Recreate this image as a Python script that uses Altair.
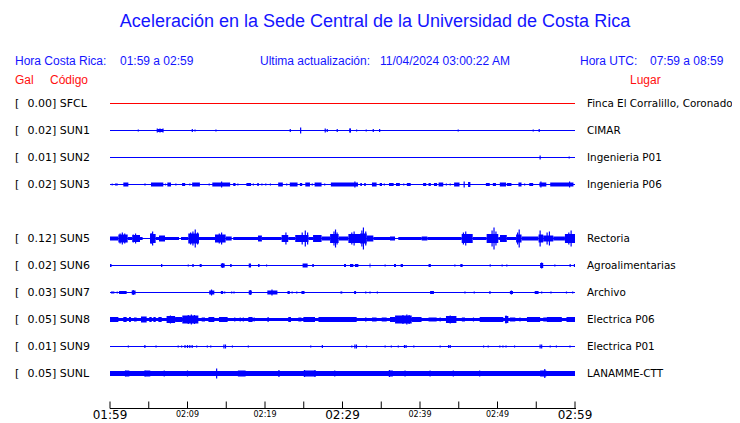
import altair as alt
import pandas as pd

# ---------------- data ----------------
codes = ["SFCL", "SUN1", "SUN2", "SUN3", "SUN5", "SUN6", "SUN7", "SUN8", "SUN9", "SUNL"]
rows = [0, 1, 2, 3, 5, 6, 7, 8, 9, 10]
gal = ["0.00", "0.02", "0.01", "0.02", "0.12", "0.02", "0.03", "0.05", "0.01", "0.05"]
places = ["Finca El Corralillo, Coronado", "CIMAR", "Ingenieria P01", "Ingenieria P06",
          "Rectoria", "Agroalimentarias", "Archivo", "Electrica P06", "Electrica P01",
          "LANAMME-CTT"]
base_amp = [0.5, 0.5, 0.5, 0.5, 0.5, 0.5, 0.5, 1.5, 0.5, 2.5]
trace_colors = ["#ff0000"] + ["#0000ff"] * 9

tick_minutes = [0, 5, 10, 15, 20, 25, 30, 35, 40, 45, 50, 55, 60]
label_minutes = [0, 10, 20, 30, 40, 50, 60]
label_texts = ["01:59", "02:09", "02:19", "02:29", "02:39", "02:49", "02:59"]
label_big = [True, False, False, True, False, False, True]

# bursts: (start minute, end minute, half amplitude)
SUN1_segs = [(6.1, 6.84, 1.5), (30.9, 31.1, 2)]
SUN3_segs = [(0.22, 0.34, 1), (0.65, 1.0, 1), (1.72, 2.37, 2), (4.43, 4.6, 1), (5.29, 6.88, 2),
             (7.1, 7.2, 1), (7.4, 7.87, 2), (9.3, 9.7, 1.5), (10.6, 11.6, 2), (13.2, 15.5, 2),
             (15.9, 16.2, 1.5), (17.6, 18.2, 1.5), (19.0, 19.2, 1.5), (21.7, 22.3, 2),
             (23.2, 24.2, 2), (24.5, 24.8, 1.5), (25.2, 25.8, 2), (26.4, 27.3, 2), (28.5, 32.0, 2),
             (32.3, 32.5, 1.5), (32.8, 33.0, 1.5), (33.8, 34.4, 2), (34.8, 35.1, 1.5),
             (36.0, 36.6, 1.5), (36.9, 37.4, 1.5), (38.3, 38.8, 1.5), (40.4, 40.8, 1.5),
             (41.1, 41.4, 1.5), (41.8, 42.2, 1.5), (42.4, 43.0, 2), (44.4, 45.1, 2),
             (46.2, 46.5, 2.5), (48.5, 49.0, 1.5), (49.4, 49.8, 1.5), (50.3, 51.1, 2),
             (51.2, 51.8, 1.5), (52.7, 53.1, 2), (54.1, 54.6, 1.5), (55.4, 56.3, 2), (56.8, 59.8, 2)]
SUN5_segs = [(0.0, 1.08, 2), (1.08, 2.28, 4), (2.28, 2.88, 1.5), (2.88, 3.87, 3.5), (3.87, 4.21, 1.5),
             (5.16, 5.89, 4.5), (5.89, 6.32, 1.5), (6.32, 7.1, 3), (7.1, 8.9, 1.5), (9.16, 10.1, 1.5),
             (10.1, 11.48, 5), (11.48, 13.55, 1.5), (13.55, 14.92, 4), (14.92, 15.7, 2),
             (15.9, 19.1, 1.5), (19.1, 19.6, 3), (19.6, 22.15, 1.5), (22.15, 23.0, 3.5),
             (23.0, 23.9, 1.5), (23.9, 25.6, 3.5), (25.6, 26.2, 1.5), (26.2, 27.3, 3.5),
             (27.3, 28.4, 2), (28.4, 29.5, 4.5), (29.5, 30.76, 2), (30.76, 32.26, 4.5),
             (32.26, 33.12, 5), (33.12, 33.98, 3), (33.98, 36.13, 1.5), (36.13, 36.78, 2),
             (37.2, 40.22, 1.5), (40.22, 40.95, 2), (40.95, 45.38, 1.5), (45.38, 46.8, 4.5),
             (46.8, 48.6, 1.5), (48.6, 50.1, 4.5), (50.1, 50.32, 1.5), (50.32, 51.2, 3.5),
             (51.2, 52.4, 1.5), (52.4, 53.1, 4), (53.1, 55.3, 2), (55.3, 55.9, 4), (55.9, 57.2, 3),
             (57.2, 58.7, 2), (58.7, 60.0, 4.5)]
SUN6_segs = [(0.0, 0.2, 1.5), (6.58, 6.75, 1.5), (10.62, 10.8, 1.5), (11.57, 11.83, 1.5),
             (14.3, 14.8, 2), (15.5, 15.7, 1.5), (17.9, 18.2, 2), (19.1, 19.3, 1.5), (24.85, 25.5, 2),
             (26.1, 26.3, 1.5), (30.2, 30.45, 1.5), (30.97, 31.4, 1.5), (31.6, 32.05, 1.5),
             (33.5, 33.6, 2), (36.65, 36.9, 1.5), (37.5, 37.8, 1.5), (41.1, 41.4, 1.5),
             (45.2, 45.5, 1.5), (49.0, 49.1, 1.5), (55.5, 55.9, 2.5), (59.3, 59.45, 1.5),
             (59.85, 60.0, 1.5)]
SUN7_segs = [(0.13, 0.56, 1), (0.86, 1.0, 1), (1.16, 2.15, 1.5), (2.8, 3.3, 2), (12.8, 13.46, 2),
             (14.3, 14.6, 1.5), (17.9, 18.3, 2), (20.3, 21.6, 2), (22.9, 23.2, 1.5), (24.7, 25.1, 1.5),
             (31.5, 31.75, 1.5), (41.3, 41.8, 1.5), (48.95, 49.1, 1.5), (51.6, 52.0, 1.5),
             (54.8, 55.3, 1.5)]
SUN8_segs = [(0.0, 1.08, 2.5), (1.72, 2.15, 2.5), (2.45, 2.7, 2.5), (3.1, 3.44, 2), (4.0, 4.73, 3),
             (5.07, 5.38, 2.5), (5.6, 5.9, 2.5), (6.24, 6.67, 2.5), (7.3, 8.4, 3.5), (8.4, 9.33, 2.5),
             (9.33, 11.4, 4), (11.83, 12.26, 2), (12.7, 13.46, 2.5), (14.06, 15.18, 2.5),
             (17.85, 18.4, 2.5), (23.0, 23.35, 2.5), (24.3, 24.7, 2), (24.95, 26.45, 2.5),
             (26.9, 31.83, 2.5), (32.9, 33.1, 2), (33.8, 34.4, 2), (35.06, 35.7, 2),
             (36.13, 36.78, 2.5), (36.78, 38.93, 4), (38.93, 40.2, 2.5), (41.1, 42.15, 2),
             (43.35, 44.7, 3.5), (45.4, 45.8, 2), (47.7, 50.75, 2.5), (50.96, 51.4, 3.5),
             (51.6, 52.3, 2), (53.8, 55.5, 2.5), (55.9, 56.35, 2), (56.35, 58.3, 2.5), (58.9, 60.0, 2.5)]
SUNL_segs = [(2.0, 2.5, 3), (4.5, 5.2, 3), (16.5, 17.5, 3), (25.0, 26.5, 3), (36.0, 36.5, 3),
             (55.5, 56.3, 3)]

# single spikes: (minute, half amplitude)
SUN1_spikes = [(3.65, 1), (6.1, 2), (6.45, 2), (6.84, 2), (10.62, 1.5), (10.97, 1), (13.67, 1),
               (23.26, 1.5), (24.6, 3), (27.77, 2), (28.03, 1.5), (29.32, 1.5), (30.96, 2),
               (31.82, 1), (33.06, 1), (33.97, 1.5), (34.79, 1.5), (44.93, 1), (54.61, 1), (55.38, 1.5)]
SUN2_spikes = [(55.5, 2), (59.25, 1)]
SUN3_spikes = [(8.5, 1), (10.3, 1), (12.8, 1), (14.4, 3), (16.5, 1), (18.5, 1), (19.6, 1), (20.1, 1),
               (20.7, 1), (22.8, 1), (26.1, 1), (27.7, 1), (31.6, 3), (35.4, 1), (37.9, 1), (43.4, 1),
               (43.9, 1), (45.7, 3), (53.5, 1), (55.6, 3), (59.3, 3)]
SUN5_spikes = [(1.59, 6), (1.3, 5), (1.9, 5), (3.3, 5), (3.0, 4), (5.5, 7), (5.3, 5.5), (11.0, 9),
               (10.7, 7), (11.3, 6), (10.4, 6), (14.4, 6), (14.1, 5), (22.7, 6), (25.2, 8), (24.8, 6),
               (25.5, 6), (29.1, 9), (28.9, 7), (29.3, 6), (31.5, 7), (31.2, 6), (32.7, 11), (32.5, 8),
               (33.0, 7), (45.9, 7), (45.6, 6), (49.55, 11), (49.3, 8), (49.8, 7), (52.8, 9),
               (52.6, 6), (55.5, 8), (56.7, 7), (56.4, 6), (59.5, 8), (59.2, 6)]
SUN6_spikes = [(10.1, 1), (20.2, 1), (35.5, 1), (44.5, 1), (50.6, 1), (51.2, 1), (57.4, 1),
               (14.55, 2.5), (55.7, 3)]
SUN7_spikes = [(3.0, 2.5), (13.1, 3), (14.8, 1), (15.7, 1), (16.0, 1), (18.1, 2.5), (20.9, 3),
               (23.5, 1), (24.1, 1), (29.8, 1), (29.9, 1), (33.0, 1), (33.55, 1), (34.5, 1),
               (45.8, 1), (47.0, 1), (51.8, 2), (55.7, 1), (56.9, 1), (58.9, 1), (59.7, 1)]
SUN8_spikes = [(10.5, 5), (10.1, 4.5), (10.9, 4.5), (7.8, 4), (38.3, 5), (37.8, 4.5), (38.6, 4.5),
               (43.9, 4), (16.1, 2), (16.8, 2), (17.2, 2), (18.6, 2), (20.4, 2.5), (42.6, 2),
               (46.9, 2), (52.9, 2), (51.1, 4)]
SUN9_spikes = [(2.37, 1), (4.5, 1.5), (5.94, 1), (8.8, 1), (9.24, 1), (9.68, 1.5), (10.0, 1.5),
               (10.3, 1.5), (10.6, 1.5), (11.18, 1), (12.56, 1), (13.0, 1), (14.7, 2), (14.9, 2),
               (15.8, 1), (17.85, 1), (25.9, 1), (27.4, 1.5), (31.2, 1), (31.6, 2), (31.8, 2),
               (33.1, 1), (35.5, 1), (36.3, 1), (37.2, 1), (38.0, 1.5), (38.2, 1.5), (39.2, 1),
               (42.6, 1), (43.7, 1.5), (43.9, 1.5), (48.2, 1), (48.8, 1), (50.3, 1), (50.7, 1),
               (51.1, 1), (52.2, 1), (55.5, 2), (55.7, 2), (56.8, 1), (57.6, 1), (59.35, 1)]
SUNL_spikes = [(13.76, 5), (21.8, 3.5), (25.1, 3.5), (26.45, 3.5), (29.0, 3), (36.05, 3.5),
               (38.07, 3), (41.3, 3), (44.3, 3), (47.7, 3), (56.1, 4.5), (2.0, 3), (4.5, 3),
               (7.0, 3), (10.0, 3)]

segments = {"SUN1": SUN1_segs, "SUN3": SUN3_segs, "SUN5": SUN5_segs, "SUN6": SUN6_segs,
            "SUN7": SUN7_segs, "SUN8": SUN8_segs, "SUNL": SUNL_segs}
spikes = {"SUN1": SUN1_spikes, "SUN2": SUN2_spikes, "SUN3": SUN3_spikes, "SUN5": SUN5_spikes,
          "SUN6": SUN6_spikes, "SUN7": SUN7_spikes, "SUN8": SUN8_spikes, "SUN9": SUN9_spikes,
          "SUNL": SUNL_spikes}

# ---------------- tables ----------------
row_of = dict(zip(codes, rows))
stations = pd.DataFrame({"code": codes, "row": rows, "gal": gal, "place": places,
                         "amp": base_amp, "t0": 0.0, "t1": 60.0})
stations["left"] = stations["gal"] + "] " + stations["code"]

seg_df = pd.DataFrame([dict(code=c, row=row_of[c], t0=a, t1=b, amp=h)
                       for c, lst in segments.items() for a, b, h in lst])
spk_df = pd.DataFrame([dict(code=c, row=row_of[c], t=a, amp=h)
                       for c, lst in spikes.items() for a, h in lst])
ticks_df = pd.DataFrame({"t": tick_minutes})
labels_df = pd.DataFrame({"t": label_minutes, "lab": label_texts, "big": label_big})

AMP_UNIT = 27.0  # pixels per row spacing
xs = alt.Scale(domain=[0, 60], range=[102, 567], nice=False, zero=False)
ys = alt.Scale(domain=[0, 10], range=[95.5, 365.5], nice=False, zero=False)
cs = alt.Scale(domain=codes, range=trace_colors)


def lohi(ch):
    return ch.transform_calculate(lo=f"datum.row - datum.amp/{AMP_UNIT}",
                                  hi=f"datum.row + datum.amp/{AMP_UNIT}")


base = lohi(alt.Chart(stations).mark_rect()).encode(
    x=alt.X("t0:Q", scale=xs, axis=None), x2="t1:Q",
    y=alt.Y("lo:Q", scale=ys, axis=None), y2="hi:Q",
    color=alt.Color("code:N", scale=cs, legend=None))

segs = lohi(alt.Chart(seg_df).mark_rect()).encode(
    x=alt.X("t0:Q", scale=xs, axis=None), x2="t1:Q",
    y=alt.Y("lo:Q", scale=ys, axis=None), y2="hi:Q",
    color=alt.Color("code:N", scale=cs, legend=None))

spk = lohi(alt.Chart(spk_df).mark_rule(strokeWidth=1.2)).encode(
    x=alt.X("t:Q", scale=xs, axis=None),
    y=alt.Y("lo:Q", scale=ys, axis=None), y2="hi:Q",
    color=alt.Color("code:N", scale=cs, legend=None))

left_br = alt.Chart(stations).mark_text(align="left", baseline="middle", font="DejaVu Sans",
                                        fontSize=11, color="black").encode(
    x=alt.value(7), y=alt.Y("row:Q", scale=ys, axis=None), text=alt.value("["))
left_txt = alt.Chart(stations).mark_text(align="left", baseline="middle", font="DejaVu Sans",
                                         fontSize=11, color="black").encode(
    x=alt.value(19.5), y=alt.Y("row:Q", scale=ys, axis=None), text="left:N")
right_txt = alt.Chart(stations).mark_text(align="left", baseline="middle", font="DejaVu Sans",
                                          fontSize=10.4, color="black").encode(
    x=alt.value(579), y=alt.Y("row:Q", scale=ys, axis=None), text="place:N")

axis_line = alt.Chart(ticks_df).mark_rule(color="black", strokeWidth=1).encode(
    x=alt.value(102), x2=alt.value(567.5), y=alt.value(400.5))
ticks = alt.Chart(ticks_df).mark_rule(color="black", strokeWidth=1).encode(
    x=alt.X("t:Q", scale=xs, axis=None), y=alt.value(393.5), y2=alt.value(400.5))
big_labels = alt.Chart(labels_df).transform_filter("datum.big").mark_text(
    align="center", baseline="alphabetic", font="DejaVu Sans", fontSize=12, color="black").encode(
    x=alt.X("t:Q", scale=xs, axis=None), y=alt.value(411.3), text="lab:N")
small_labels = alt.Chart(labels_df).transform_filter("!datum.big").mark_text(
    align="center", baseline="alphabetic", font="DejaVu Sans", fontSize=8, color="black").encode(
    x=alt.X("t:Q", scale=xs, axis=None), y=alt.value(408.7), text="lab:N")


def label(txt, x, y, color, size=12, align="left"):
    return alt.Chart(ticks_df.head(1)).mark_text(
        align=align, baseline="middle", font="Liberation Sans", fontSize=size, color=color).encode(
        x=alt.value(x), y=alt.value(y), text=alt.value(txt))


BLUE = "#1414ff"
RED = "#ff1010"
texts = [
    label("Aceleración en la Sede Central de la Universidad de Costa Rica", 367, 14, BLUE, 18, "center"),
    label("Hora Costa Rica:", 7, 53, BLUE),
    label("01:59 a 02:59", 112, 53, BLUE),
    label("Ultima actualización:", 252, 53, BLUE),
    label("11/04/2024 03:00:22 AM", 372, 53, BLUE),
    label("Hora UTC:", 572, 53, BLUE),
    label("07:59 a 08:59", 642, 53, BLUE),
    label("Gal", 7, 72, RED),
    label("Código", 42, 72, RED),
    label("Lugar", 622, 72, RED),
]

chart = alt.layer(base, segs, spk, left_br, left_txt, right_txt, axis_line, ticks,
                  big_labels, small_labels, *texts).properties(
    width=724, height=414, autosize=alt.AutoSizeParams(type="none"), padding=0
).configure_view(stroke=None)

chart.save("out.html", embed_options={"renderer": "svg", "actions": False})
